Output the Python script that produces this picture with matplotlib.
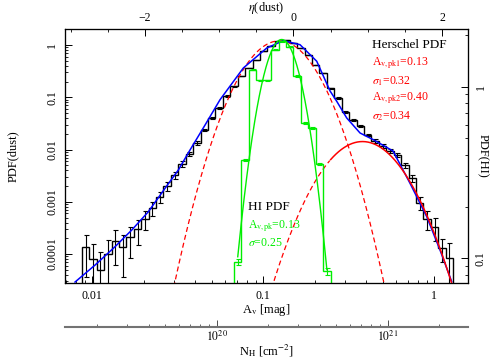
import matplotlib
matplotlib.use("Agg")
import matplotlib.pyplot as plt
import numpy as np
from matplotlib.ticker import LogLocator, MultipleLocator, NullFormatter

plt.rcParams.update({
    "font.family": ["Liberation Serif", "DejaVu Serif"],
    "mathtext.fontset": "stix",
    "font.size": 9,
    "xtick.labelsize": 8.5,
    "ytick.labelsize": 8.5,
    "axes.linewidth": 0.8,
})

# --- conversions used by the extra axes ---
AV_REF = 0.15        # eta = ln(Av / AV_REF)
NH_PER_AV = 1.87e21  # N_H = NH_PER_AV * Av
BIN = 0.1            # histogram bin width in eta

# --- Herschel (dust) PDF: bin centres in eta, PDF, error ---
dust_eta = [-2.8, -2.7, -2.6, -2.5, -2.4, -2.3, -2.2, -2.1, -2.0, -1.9,
            -1.8, -1.7, -1.6, -1.5, -1.4, -1.3, -1.2, -1.1, -1.0, -0.9,
            -0.8, -0.7, -0.6, -0.5, -0.4, -0.3, -0.2, -0.1, 0.0, 0.1,
            0.2, 0.3, 0.4, 0.5, 0.6, 0.7, 0.8, 0.9, 1.0, 1.1,
            1.2, 1.3, 1.4, 1.5, 1.6, 1.7, 1.8, 1.9, 2.0, 2.1]
dust_pdf = [1.36e-4, 8.0e-5, 4.9e-5, 1.0e-4, 1.77e-4, 1.36e-4, 2.1e-4, 3.0e-4, 4.7e-4, 7.6e-4,
            1.23e-3, 2.0e-3, 3.25e-3, 5.3e-3, 8.2e-3, 1.33e-2, 2.36e-2, 4.0e-2, 6.2e-2, 0.106,
            0.164, 0.255, 0.363, 0.516, 0.768, 0.957, 1.19, 1.22, 1.09, 0.877,
            0.644, 0.414, 0.291, 0.150, 0.0968, 0.0522, 0.0367, 0.0282, 0.0190, 0.0146,
            0.0117, 9.4e-3, 7.8e-3, 5.0e-3, 2.85e-3, 9.5e-4, 4.7e-4, 3.3e-4, 1.3e-4, 8.4e-5]
dust_err = [1.0e-4, 7.7e-5, 6.0e-5, 8.6e-5, 1.14e-4, 1.0e-4, 1.25e-4, 1.49e-4, 1.86e-4, 2.37e-4,
            3.0e-4, 3.85e-4, 4.9e-4, 6.3e-4, 7.8e-4, 9.9e-4, 1.32e-3, 1.72e-3, 2.14e-3, 2.8e-3,
            3.5e-3, 4.3e-3, 5.2e-3, 6.2e-3, 7.5e-3, 8.4e-3, 9.4e-3, 9.5e-3, 9.0e-3, 8.1e-3,
            6.9e-3, 5.5e-3, 4.6e-3, 3.3e-3, 2.7e-3, 2.0e-3, 1.65e-3, 1.44e-3, 1.19e-3, 1.04e-3,
            9.3e-4, 8.3e-4, 7.6e-4, 6.1e-4, 4.6e-4, 2.65e-4, 1.86e-4, 1.56e-4, 6.0e-5, 7.9e-5]

# --- HI PDF (right axis) ---
hi_eta = [-0.75, -0.65, -0.55, -0.45, -0.35, -0.25, -0.15, -0.05, 0.05, 0.15, 0.25, 0.35, 0.45]
hi_pdf = [0.0951, 0.374, 1.251, 1.087, 1.087, 1.636, 1.834, 1.704, 1.154, 0.614, 0.574, 0.354, 0.0843]
hi_err = [0.004, 0.006, 0.01, 0.01, 0.01, 0.012, 0.012, 0.012, 0.01, 0.008, 0.008, 0.006, 0.004]

# --- total Herschel fit (blue) ---
fit_av = [0.00792, 0.01037, 0.01357, 0.0170, 0.02126, 0.02661, 0.03183, 0.03726, 0.04561,
          0.0558, 0.07638, 0.1047, 0.1309, 0.1639, 0.2053, 0.2455, 0.2687, 0.3074, 0.3678,
          0.4398, 0.5735, 0.721, 0.9029, 1.0797, 1.264]
fit_pdf = [2.91e-5, 6.15e-5, 1.38e-4, 2.88e-4, 6.45e-4, 1.81e-3, 4.05e-3, 9.8e-3, 0.0294,
           0.0897, 0.363, 0.876, 1.21, 1.013, 0.488, 0.132, 0.0836, 0.0401, 0.0207,
           0.0154, 0.00936, 0.00225, 5.18e-4, 1.19e-4, 2.95e-5]

# --- lognormal components ---
pk1, sig1, amp1 = 0.124, 0.305, 1.2
pk2, sig2, amp2 = 0.38, 0.34, 0.0142
FIT2_MIN = 0.245
hi_pk, hi_sig, hi_amp = 0.128, 0.245, 1.88

# N_H tick values
nh_ticks = [1e20, 1e21]
nh_labels = [r"$10^{20}$", r"$10^{21}$"]

RED = "#ff0000"
GREEN = "#00ee00"


def lognorm(av, pk, sig, amp):
    return amp * np.exp(-np.log(av / pk) ** 2 / (2 * sig ** 2))


def eta_to_av(e):
    return AV_REF * np.exp(np.asarray(e))


fig = plt.figure(figsize=(4.91, 3.58), dpi=100)
ax = fig.add_axes([0.1324, 0.2095, 0.8208, 0.7081])
ax.set_xscale("log")
ax.set_yscale("log")
ax.set_xlim(0.00692, 1.574)
ax.set_ylim(2.79e-5, 1.98)

# Herschel histogram
d_edges = eta_to_av(np.append(np.array(dust_eta) - BIN / 2, dust_eta[-1] + BIN / 2))
ax.stairs(dust_pdf, d_edges, color="k", lw=1.0, zorder=2)
ax.errorbar(eta_to_av(dust_eta), dust_pdf, yerr=dust_err, fmt="none", ecolor="k",
            elinewidth=0.8, capsize=1.8, capthick=0.8, zorder=2)

# fits
grid = np.logspace(np.log10(0.005), np.log10(2.0), 500)
ax.plot(grid, lognorm(grid, pk1, sig1, amp1), color=RED, lw=0.9, ls=(0, (4, 2.5)), zorder=3)
c2 = lognorm(grid, pk2, sig2, amp2)
ax.plot(grid[grid <= FIT2_MIN * 1.01], c2[grid <= FIT2_MIN * 1.01], color=RED, lw=0.9,
        ls=(0, (4, 2.5)), zorder=3)
ax.plot(grid[grid >= FIT2_MIN], c2[grid >= FIT2_MIN], color=RED, lw=1.1, zorder=4)
ax.plot(fit_av, fit_pdf, color="#0000ff", lw=1.1, zorder=3)

# ticks of the main axes
ax.set_xticks([0.01, 0.1, 1], ["0.01", "0.1", "1"])
ax.xaxis.set_minor_locator(LogLocator(base=10, subs=np.arange(2, 10), numticks=20))
ax.xaxis.set_minor_formatter(NullFormatter())
ax.set_yticks([1e-4, 1e-3, 1e-2, 0.1, 1], ["0.0001", "0.001", "0.01", "0.1", "1"])
ax.yaxis.set_minor_locator(LogLocator(base=10, subs=np.arange(2, 10), numticks=20))
ax.yaxis.set_minor_formatter(NullFormatter())
ax.tick_params(which="both", direction="in", top=False, right=False)
ax.tick_params(which="major", length=5, width=0.7, pad=5)
ax.tick_params(which="minor", length=2.5, width=0.6)
for t in ax.get_yticklabels():
    t.set_rotation(90)
    t.set_va("center")
ax.set_xlabel(r"A$_\mathrm{v}$ [mag]", labelpad=0)
ax.set_ylabel("PDF(dust)", va="center")
ax.yaxis.set_label_coords(-0.13, 0.5)

# HI on the right axis
ax2 = ax.twinx()
ax2.set_yscale("log")
ax2.set_ylim(0.0718, 2.15)
h_edges = eta_to_av(np.append(np.array(hi_eta) - BIN / 2, hi_eta[-1] + BIN / 2))
ax2.stairs(hi_pdf, h_edges, color=GREEN, lw=1.0)
ax2.errorbar(eta_to_av(hi_eta), hi_pdf, yerr=hi_err, fmt="none", ecolor=GREEN,
             elinewidth=0.8, capsize=1.8, capthick=0.8)
hgrid = np.logspace(np.log10(eta_to_av(hi_eta[0])), np.log10(eta_to_av(hi_eta[-1])), 200)
ax2.plot(hgrid, lognorm(hgrid, hi_pk, hi_sig, hi_amp), color=GREEN, lw=1.0)
ax2.set_yticks([0.1, 1], ["0.1", "1"])
ax2.yaxis.set_minor_locator(LogLocator(base=10, subs=np.arange(2, 10), numticks=20))
ax2.yaxis.set_minor_formatter(NullFormatter())
ax2.tick_params(which="both", direction="in")
ax2.tick_params(which="major", length=5, width=0.7, pad=5)
ax2.tick_params(which="minor", length=2.5, width=0.6)
for t in ax2.get_yticklabels():
    t.set_rotation(90)
    t.set_va("center")
ax2.set_ylabel("PDF(HI)", rotation=270, va="center")
ax2.yaxis.set_label_coords(1.035, 0.5)

# eta(dust) on top
ax3 = ax.twiny()
ax3.set_xlim(np.log(np.array(ax.get_xlim()) / AV_REF))
ax3.set_xticks([-2, 0, 2], ["\u22122", "0", "2"])
ax3.xaxis.set_minor_locator(MultipleLocator(0.5))
ax3.tick_params(which="both", direction="in")
ax3.tick_params(which="major", length=5, width=0.7, pad=4)
ax3.tick_params(which="minor", length=2.5, width=0.6)
ax3.set_xlabel(r"$\eta$(dust)", labelpad=0.5)

# N_H axis below
sec = ax.secondary_xaxis(-0.1724, functions=(lambda a: a * NH_PER_AV, lambda n: n / NH_PER_AV))
sec.set_xticks(nh_ticks, nh_labels)
sec.xaxis.set_minor_locator(LogLocator(base=10, subs=np.arange(2, 10), numticks=20))
sec.xaxis.set_minor_formatter(NullFormatter())
sec.xaxis.offsetText.set_visible(False)
sec.yaxis.set_visible(False)
sec.spines["bottom"].set_color("0.45")
sec.spines["bottom"].set_linewidth(1.5)
sec.tick_params(which="both", direction="in", color="0.3")
sec.tick_params(which="major", length=5, width=0.7, pad=2)
sec.tick_params(which="minor", length=2.5, width=0.6)
sec.set_xlabel(r"N$_\mathrm{H}$ [cm$^{-2}$]", labelpad=-1)

# annotations
tr = ax3.transAxes
ax3.text(0.762, 0.939, "Herschel PDF", transform=tr, va="center", fontsize=9.5)
ax3.text(0.762, 0.867, r"A$_\mathrm{v,\!pk1}$=0.13", transform=tr, va="center", color=RED, fontsize=8.5)
ax3.text(0.762, 0.797, r"$\sigma_1$=0.32", transform=tr, va="center", color=RED, fontsize=8.5)
ax3.text(0.762, 0.729, r"A$_\mathrm{v,\!pk2}$=0.40", transform=tr, va="center", color=RED, fontsize=8.5)
ax3.text(0.762, 0.659, r"$\sigma_2$=0.34", transform=tr, va="center", color=RED, fontsize=8.5)
ax3.text(0.454, 0.301, "HI PDF", transform=tr, va="center", fontsize=9.5)
ax3.text(0.454, 0.222, r"A$_\mathrm{v,\!pk}$=0.13", transform=tr, va="center", color=GREEN, fontsize=8.5)
ax3.text(0.454, 0.157, r"$\sigma$=0.25", transform=tr, va="center", color=GREEN, fontsize=8.5)

fig.savefig("out.png", dpi=100)
